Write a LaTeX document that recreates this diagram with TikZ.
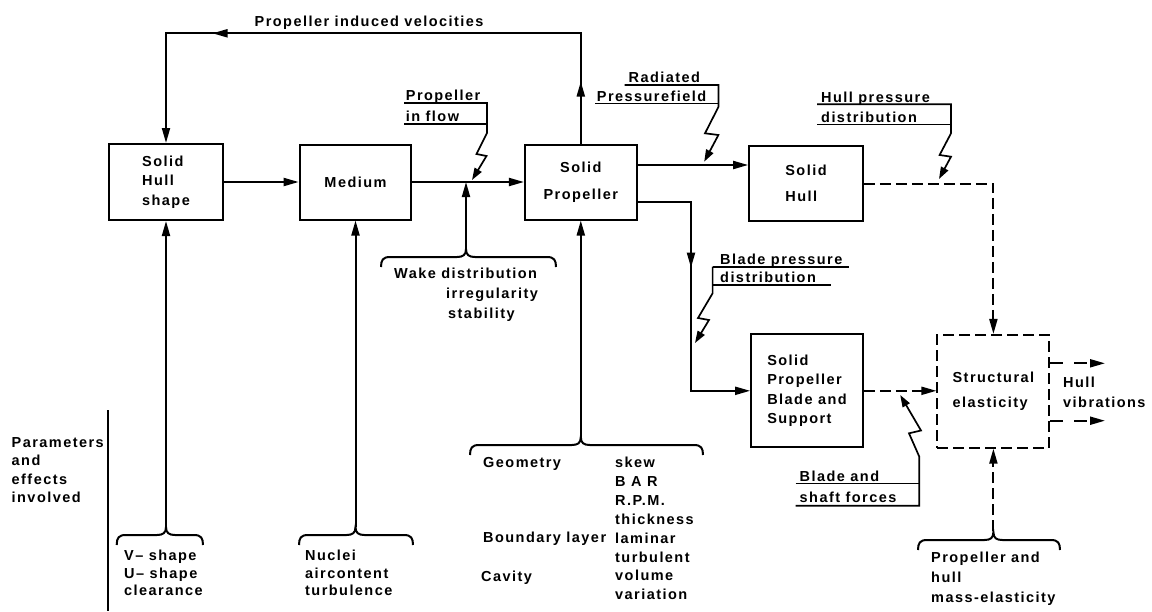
\documentclass[tikz,border=0pt]{standalone}
\usepackage{fontspec}
\setmainfont{Liberation Sans}[LetterSpace=10]
\usetikzlibrary{arrows.meta,decorations.markings}

% curly brace opening downwards with its point upwards: xL, xmid, xR, y of the flat line
\newcommand{\curlybrace}[4]{%
  \draw[bracket] (#1,#4+10) .. controls (#1,#4+3) and (#1+2,#4) .. (#1+9,#4)
    -- (#2-9,#4) .. controls (#2-3,#4) and (#2,#4-2) .. (#2,#4-8)
    .. controls (#2,#4-2) and (#2+3,#4) .. (#2+9,#4)
    -- (#3-9,#4) .. controls (#3-2,#4) and (#3,#4+3) .. (#3,#4+10);}

% text nodes are placed by the baseline of their last line
\tikzset{
  lettering/.style={font=\bfseries\fontsize{14.5}{#1}\selectfont},
  lettering/.default=19.5,
  txt/.style={lettering=#1, inner sep=0pt, align=left, anchor=base west},
  txt/.default=19.5,
  box/.style={draw, line width=2pt, inner sep=0pt, lettering},
  dbox/.style={box, dash pattern=on 11pt off 5pt},
  flow/.style={line width=2pt, -{Triangle[length=15pt,width=8pt]}},
  dflow/.style={flow, dash pattern=on 11pt off 5pt},
  underrule/.style={line width=1.6pt},
  bolt/.style={line width=1.7pt, -{Triangle[length=12pt,width=8pt]}},
  bracket/.style={line width=2pt},
  divider/.style={line width=2pt},
  midtip/.style={postaction={decorate,decoration={markings,
      mark=at position #1 with {\arrow{Triangle[length=15pt,width=8pt]}}}}},
}

\begin{document}
\begin{tikzpicture}[x=1pt,y=-1pt]
\fill[white] (0,0) rectangle (1152,611);
\useasboundingbox (0,0) rectangle (1152,611);

% main blocks
\node[box, minimum width=113.4pt, minimum height=76pt, align=left] (hullshape) at (166,182) {Solid\\Hull\\shape};
\node[box, minimum width=111.7pt, minimum height=75pt] (medium) at (355.5,182) {Medium};
\node[box, minimum width=111.7pt, minimum height=75pt, align=center] (prop) at (580.8,182) {Solid\\[7pt]Propeller};
\node[box, minimum width=113.7pt, minimum height=75.7pt, align=left] (shull) at (806,183.5) {Solid\\[6pt]Hull};
\node[box, minimum width=111.7pt, minimum height=113pt, align=left] (blade) at (807,390.8) {Solid\\Propeller\\Blade and\\Support};
\node[dbox, minimum width=112pt, minimum height=112.7pt, align=left] (struct) at (993.4,391.3) {Structural\\[5pt]elasticity};

% level and route helpers
\coordinate (loopY) at (0,33.3);
\coordinate (radY) at (0,165);
\coordinate (bladeY) at (0,202);
\coordinate (bladeX) at (691,0);

% solid connectors
\draw[flow] (hullshape.east) -- (medium.west);
\draw[flow] (medium.east) -- (prop.west);
\draw[flow, midtip=62pt, midtip=478.5pt] (prop.north) -- (prop.north |- loopY) -- (hullshape.north |- loopY) -- (hullshape.north);
\draw[flow] (prop.east |- radY) -- (shull.west |- radY);
\draw[flow, midtip=119pt] (prop.east |- bladeY) -- (bladeX |- bladeY) -- (bladeX |- blade.west) -- (blade.west);

% dashed connectors
\draw[dflow] (shull.east) -| (struct.north);
\draw[dflow] (blade.east) -- (blade.east -| struct.west);
\coordinate (vibA) at (1105,363.3);
\coordinate (vibB) at (1105,420.7);
\draw[flow, dash pattern=on 13pt off 11pt] (struct.east |- vibA) -- (vibA);
\draw[flow, dash pattern=on 13pt off 11pt] (struct.east |- vibB) -- (vibB);

% braces with their parameter lists
\coordinate (hullB) at (166,527);
\curlybrace{116.7}{166}{203}{535}
\draw[flow] (hullB) -- (hullshape.south);
\node[txt=17.5] (hullpar) at (124,595.5) {V– shape\\U– shape\\clearance};

\coordinate (medB) at (355.5,527);
\curlybrace{299}{355.5}{413}{535}
\draw[flow] (medB) -- (medium.south);
\node[txt=17.5] (medpar) at (305,595.5) {Nuclei\\aircontent\\turbulence};

\coordinate (wakeB) at (466,249);
\curlybrace{381}{466}{556}{257}
\draw[flow] (wakeB) -- (wakeB |- medium.east);
\node[txt=20] (wake) at (394,318) {Wake distribution\\\hspace*{52pt}irregularity\\\hspace*{54pt}stability};

\coordinate (propB) at (580.8,437);
\curlybrace{470}{580.8}{703}{445}
\draw[flow] (propB) -- (prop.south);
\node[txt] (geom) at (483,467.2) {Geometry};
\node[txt] (bound) at (483,542.8) {Boundary layer};
\node[txt] (cav) at (481,581.5) {Cavity};
\node[txt=18.9] (proppar) at (615,599.8) {skew\\B A R\\R.P.M.\\thickness\\laminar\\turbulent\\volume\\variation};

\coordinate (massB) at (993.4,531);
\curlybrace{918}{993.4}{1060}{540}
\draw[dflow] (massB) -- (struct.south);
\node[txt=20] (masspar) at (931,602.2) {Propeller and\\hull\\mass-elasticity};

% row heading
\node[txt=18.5] (params) at (11.5,502.7) {Parameters\\and\\effects\\involved};
\draw[divider] (108.3,410) -- (108.3,611);

% free labels
\node[txt] (velo) at (254.5,26) {Propeller induced velocities};
\node[txt=20] (vib) at (1063,407.2) {Hull\\vibrations};

% underlined labels with lightning arrows
\coordinate (inflowTip) at (472,180);
\node[txt=21] (inflow) at (405.7,121.5) {Propeller\\in flow};
\draw[bolt] (404,103) -- (487,103) -- (487,133) -- (476.5,154) -- (486.5,156) -- (inflowTip);
\draw[underrule] (404,124) -- (487,124);

\coordinate (radTip) at (704.2,161.7);
\node[txt=18.5] (radiated) at (596.7,101) {\hspace*{31.8pt}Radiated\\Pressurefield};
\draw[bolt] (624.6,85) -- (718.4,85) -- (718.4,107) -- (705,133.3) -- (718.4,135) -- (radTip);
\draw[underrule] (595,103.3) -- (718.4,103.3);

\coordinate (hpTip) at (939,179);
\node[txt=20] (hullpress) at (821,122) {Hull pressure\\distribution};
\draw[bolt] (817,104.3) -- (951,104.3) -- (951,133.3) -- (939.6,155) -- (951,156.7) -- (hpTip);
\draw[underrule] (817,124.3) -- (951,124.3);

\coordinate (bpTip) at (695,343);
\node[txt=18] (bladepress) at (720,282.5) {Blade pressure\\distribution};
\draw[underrule] (712.6,266.7) -- (848.5,266.7);
\draw[bolt] (712.6,266.7) -- (712.6,293.3) -- (698,318) -- (709,320) -- (bpTip);
\draw[underrule] (712.6,285) -- (831.3,285);

\coordinate (shaftTip) at (900.2,395);
\node[txt=21] (shaft) at (799.5,502) {Blade and\\shaft forces};
\draw[underrule] (795.7,483.3) -- (919.3,483.3);
\draw[bolt] (795.7,505.7) -- (919.3,505.7) -- (919.3,456.7) -- (909,433.3) -- (921,430.5) -- (shaftTip);
\end{tikzpicture}
\end{document}
